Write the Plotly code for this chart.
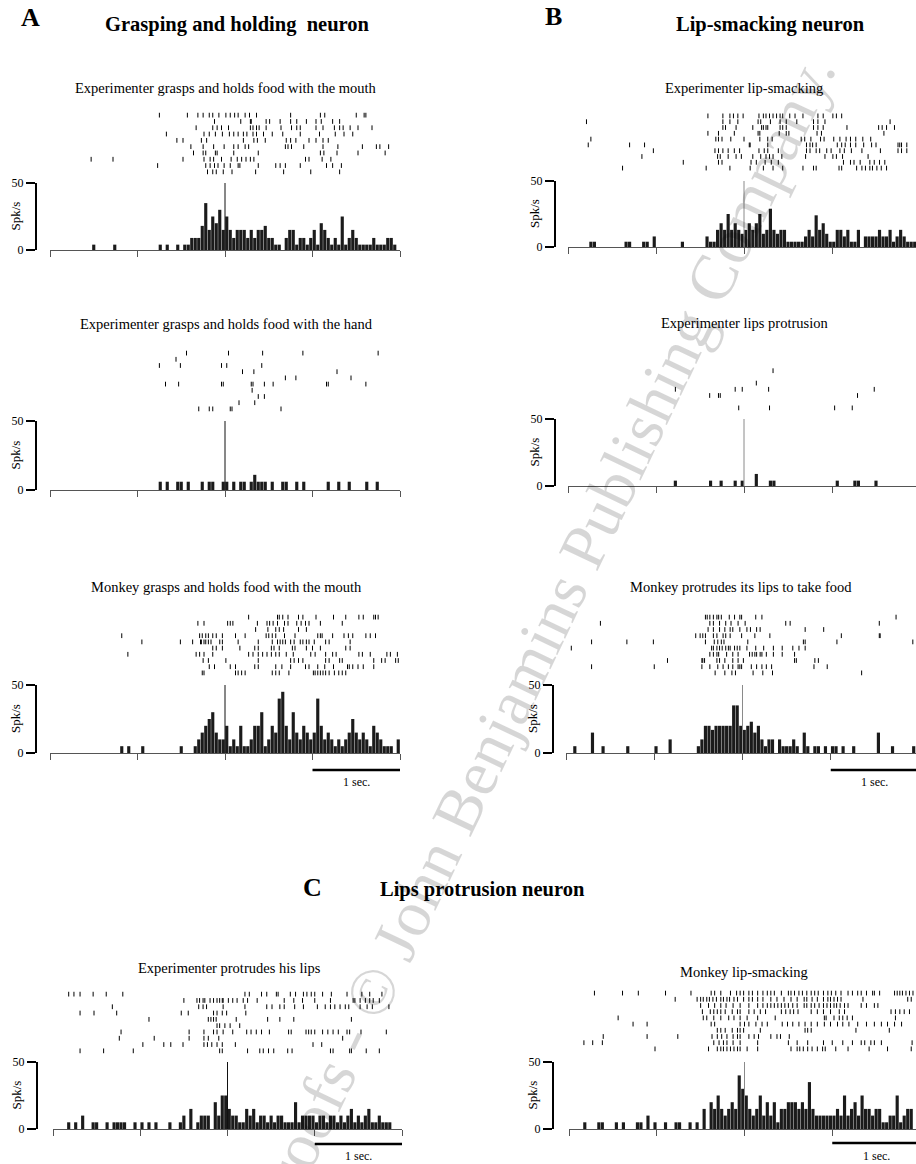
import plotly.graph_objects as go

W, H = 916, 1164
FONT = "Liberation Serif"

# ---------------- data ----------------
BIN = 0.04            # histogram bin width (s)
T_MIN, T_MAX = -2.0, 2.0
Y_MAX = 50            # spk/s
TICKS_T = [-2, -1, 0, 1, 2]

titles = {
    "A1": "Experimenter grasps and holds food with the mouth",
    "A2": "Experimenter grasps and holds food with the hand",
    "A3": "Monkey grasps and holds food with the mouth",
    "B1": "Experimenter lip-smacking",
    "B2": "Experimenter lips protrusion",
    "B3": "Monkey protrudes its lips to take food",
    "C1": "Experimenter protrudes his lips",
    "C2": "Monkey lip-smacking",
}

# firing rate per 40-ms bin, from -2 s to +2 s (spk/s)
rates_A1 = [0,0,0,0,0,0,0,0,0,0, 0,0,4,0,0,0,0,0,4,0, 0,0,0,0,0,0,0,0,0,0,
            0,4,0,4,0,0,4,0,4,4, 9,9,9,18,35,15,25,20,30,15, 25,15,9,15,15,15,9,15,9,15,
            15,18,9,9,4,4,0,9,15,15, 4,9,9,4,9,15,4,20,15,9, 4,9,4,25,4,9,15,9,4,4,
            4,4,9,4,4,4,9,9,4,0]
rates_A2 = [0,0,0,0,0,0,0,0,0,0, 0,0,0,0,0,0,0,0,0,0, 0,0,0,0,0,0,0,0,0,0,
            0,6,0,6,0,0,6,6,0,6, 0,0,0,6,0,6,6,0,0,6, 6,0,6,0,6,6,0,6,11,6,
            6,6,0,6,0,0,6,6,0,0, 6,0,6,0,0,0,0,0,0,6, 0,0,6,0,0,6,0,0,0,0,
            6,0,0,6,0,0,0,0,0,0]
rates_A3 = [0,0,0,0,0,0,0,0,0,0, 0,0,0,0,0,0,0,0,0,0, 5,0,5,0,0,0,5,0,0,0,
            0,0,0,0,0,0,0,5,0,0, 0,5,10,15,20,25,30,15,10,10, 20,5,10,5,20,5,5,10,20,20,
            30,5,10,20,15,40,45,20,10,30, 15,10,20,15,10,15,40,20,10,15, 10,5,10,5,10,15,25,15,10,15,
            10,5,20,15,10,5,5,5,0,10]
rates_B1 = [0,0,0,0,0,0,4,4,0,0, 0,0,0,0,0,0,4,4,0,0, 0,4,4,0,8,0,0,0,0,0,
            0,0,4,0,0,0,0,0,0,8, 4,4,13,18,13,25,13,18,13,10, 13,18,13,18,25,10,13,29,13,10,
            13,13,4,4,4,4,4,8,13,8, 24,13,18,10,4,4,13,13,8,13, 4,4,13,0,8,8,8,8,13,8,
            8,13,4,8,13,8,4,4,4,0]
rates_B2 = [0,0,0,0,0,0,0,0,0,0, 0,0,0,0,0,0,0,0,0,0, 0,0,0,0,0,0,0,0,0,0,
            4,0,0,0,0,0,0,0,0,0, 4,0,0,4,0,0,0,4,0,4, 0,0,0,9,0,0,0,4,4,0,
            0,0,0,0,0,0,0,0,0,0, 0,0,0,0,0,0,4,0,0,0, 0,4,4,0,0,0,0,4,0,0,
            0,0,0,0,0,0,0,0,0,0]
rates_B3 = [0,0,5,0,0,0,0,15,0,0, 5,0,0,0,0,0,0,5,0,0, 0,0,0,0,0,5,0,0,0,10,
            0,0,0,0,0,0,0,5,10,20, 20,17,20,20,20,20,20,35,35,20, 17,20,23,15,20,10,5,10,10,0,
            10,5,5,5,10,5,0,15,5,0, 5,5,0,5,0,5,5,0,5,0, 0,5,0,0,0,0,0,0,15,0,
            0,0,5,0,0,0,0,0,5,0]
rates_C1 = [0,0,0,0,5,0,5,0,10,0, 0,5,5,0,0,5,0,5,5,5, 5,0,0,5,0,5,0,5,0,5,
            0,0,0,5,0,0,5,10,0,15, 0,5,10,10,10,0,20,10,25,25, 15,10,10,5,5,15,10,15,5,10,
            10,5,10,5,10,10,5,5,5,20, 5,10,10,10,10,5,10,10,5,10, 10,5,10,5,10,15,5,10,5,10,
            15,5,5,10,5,5,5,0,0,0]
rates_C2 = [0,0,0,0,5,0,0,0,5,5, 0,0,0,5,0,5,0,0,0,5, 5,0,10,0,5,0,0,5,0,0,
            5,5,0,0,5,0,5,0,15,0, 20,15,25,15,10,15,20,15,40,30, 25,15,10,15,25,10,20,10,20,5,
            15,15,20,20,20,15,20,15,35,15, 10,10,10,10,10,10,15,10,25,10, 15,20,10,25,15,15,10,15,15,5,
            5,10,10,25,5,10,15,15,0,0]

# spike times (s) per trial, top trial first
raster_A1 = [
    [-0.75,-0.43,-0.31,-0.25,-0.18,-0.14,-0.07,0.01,0.06,0.11,0.15,0.23,0.28,0.36,0.75,1.09,1.14,1.50,1.59,1.61],
    [-0.12,0.18,0.29,0.30,0.47,0.51,0.63,0.75,0.82,0.93,1.04,1.10,1.23,1.31],
    [-0.33,-0.14,-0.09,-0.04,0.04,0.29,0.32,0.36,0.39,0.47,0.64,0.76,0.82,0.86,1.04,1.12,1.25,1.31,1.35,1.43,1.52,1.68],
    [-0.67,-0.24,-0.18,-0.11,-0.03,0.05,0.10,0.15,0.21,0.25,0.32,0.36,0.44,0.54,0.66,0.86,1.08,1.26,1.36,1.46],
    [-0.55,-0.48,-0.27,-0.21,0.21,0.33,0.37,0.46,0.70,0.75,0.81,0.96,1.04,1.12,1.18],
    [-0.39,-0.25,-0.13,-0.01,0.10,0.15,0.23,0.27,0.69,0.72,0.76,0.90,1.12,1.29,1.57,1.73,1.77,1.87],
    [-0.36,-0.25,-0.22,-0.11,-0.09,0.10,0.38,1.09,1.13,1.28,1.52,1.83],
    [-1.53,-1.28,-0.48,-0.24,-0.17,-0.13,-0.04,0.07,0.14,0.19,0.24,0.29,0.33,0.92,0.96,1.11,1.21],
    [-0.77,-0.22,-0.17,-0.12,-0.08,-0.01,0.06,0.15,0.17,0.38,0.58,0.63,0.69,0.86,1.16,1.23,1.33],
    [-0.20,-0.14,-0.10,-0.02,0.08,0.35,0.67,0.98,1.31],
]
raster_A2 = [
    [-0.44,0.04,0.43,0.89,1.75],
    [-0.56],
    [-0.75,-0.51,-0.04,0.02,0.42],
    [0.20,0.33,1.28],
    [0.69,0.81,1.44],
    [-0.68,-0.53,-0.04,-0.02,0.30,0.32,0.45,0.55,1.16,1.18,1.61],
    [0.31],
    [0.38,0.45],
    [0.16,0.34],
    [-0.30,-0.18,-0.14,0.06,0.08,0.64],
]
raster_A3 = [
    [0.27,0.60,0.62,0.66,0.72,0.84,0.89,1.04,1.24,1.38,1.53,1.58,1.70,1.72,1.75],
    [-0.31,-0.24,0.03,0.06,0.09,0.37,0.48,0.51,0.55,0.60,0.68,0.72,0.82,0.87,0.92,0.96,1.09,1.34],
    [0.35,0.49,0.58,0.62,0.67,0.84,0.93],
    [-1.18,-0.29,-0.26,-0.22,-0.19,-0.14,-0.10,-0.03,0.12,0.23,0.47,0.50,0.54,0.58,0.68,0.80,1.06,1.09,1.11,1.23,1.36,1.41,1.46,1.61,1.66,1.72],
    [-0.95,-0.51,-0.37,-0.28,-0.27,-0.24,-0.22,-0.19,-0.16,-0.06,-0.03,0.15,0.38,0.54,0.60,0.63,0.66,0.69,0.75,0.79,0.86,0.89,0.93,0.96,1.02,1.15,1.19,1.43],
    [-0.14,-0.10,-0.03,0.17,0.34,0.38,0.53,0.56,0.62,0.77,0.80,0.93,1.00,1.09,1.38,1.43],
    [-1.11,-0.33,-0.29,-0.24,-0.14,0.27,0.32,0.38,0.43,0.48,0.53,0.58,0.62,0.70,0.78,0.98,1.03,1.15,1.23,1.27,1.53,1.57,1.66,1.85,1.89,1.97],
    [-0.25,-0.19,0.01,0.38,0.75,0.79,0.84,0.89,1.15,1.19,1.31,1.34,1.70,1.79,1.83,1.95,1.98],
    [-0.18,-0.12,0.06,0.12,0.34,0.38,0.58,0.65,0.75,0.92,0.96,1.06,1.14,1.24,1.40,1.42,1.46,1.52,1.58,1.70],
    [-0.26,-0.24,0.12,0.15,0.19,0.23,0.54,0.58,0.62,0.73,1.01,1.03,1.06,1.09,1.12,1.15,1.19,1.25,1.30,1.34,1.38],
]
raster_B1 = [
    [-0.41,-0.24,-0.16,-0.12,-0.07,-0.01,0.17,0.22,0.25,0.29,0.33,0.37,0.41,0.44,0.52,0.58,0.67,0.84,0.90,1.01,1.05,1.11],
    [-1.79,-0.24,-0.16,-0.07,0.16,0.19,0.30,0.41,0.48,0.60,0.79,0.84,0.92,1.66],
    [-0.24,-0.21,-0.09,0.10,0.20,0.22,0.25,0.27,0.41,0.44,0.48,0.79,0.84,0.90,1.17,1.53,1.57,1.62,1.71],
    [-0.41,-0.29,-0.11,0.16,0.18,0.40,0.48,0.51,0.83,0.88,1.59],
    [-1.74,-0.32,-0.29,-0.25,-0.15,0.00,0.18,0.27,0.32,0.65,0.69,0.76,0.87,0.91,1.02,1.09,1.16,1.21,1.27,1.35,1.44],
    [-1.77,-1.30,-1.13,0.06,0.07,0.27,0.71,0.75,0.78,0.82,1.06,1.11,1.15,1.21,1.27,1.36,1.45,1.50,1.75,1.77,1.79,1.85],
    [-1.03,-0.33,-0.29,-0.24,-0.18,-0.11,-0.05,0.17,0.23,0.27,0.39,0.71,0.75,0.82,0.86,0.94,0.99,1.09,1.14,1.22,1.34,1.55,1.75,1.79,1.85],
    [-1.16,-0.30,-0.27,-0.18,-0.09,-0.03,0.10,0.19,0.25,0.29,0.33,0.43,0.70,0.92,1.01,1.05,1.12,1.41],
    [-0.69,-0.29,-0.25,0.08,0.14,0.24,0.31,0.39,1.13,1.21,1.25,1.32,1.43,1.48,1.54,1.60],
    [-1.38,-0.43,-0.16,0.07,0.22,0.33,0.44,0.67,0.79,0.82,1.08,1.11,1.28,1.34,1.38,1.43,1.46,1.51,1.56,1.62],
]
raster_B2 = [
    [], [], [],
    [0.33],
    [],
    [0.14],
    [-0.78,-0.10,-0.02,0.28,1.48],
    [-0.39,-0.29,-0.27,1.29],
    [],
    [-0.06,0.29,1.03,1.23],
]
raster_B3 = [
    [-0.42,-0.40,-0.37,-0.33,-0.29,-0.27,-0.24,-0.15,-0.09,-0.03,-0.01,0.15,0.22,1.74],
    [-1.61,-0.37,-0.33,-0.26,-0.19,-0.13,-0.05,0.03,0.49,0.54,1.55],
    [-0.39,-0.33,-0.26,-0.20,-0.14,-0.11,-0.03,0.05,0.09,0.16,0.20,0.71,0.92],
    [-0.53,-0.48,-0.45,-0.42,-0.33,-0.29,-0.22,-0.19,-0.14,-0.01,0.14,0.31,1.12,1.55,1.56],
    [-1.71,-1.31,-1.01,-0.42,-0.32,-0.28,-0.24,-0.21,0.06,0.69,0.71,1.07,1.93],
    [-1.94,-0.35,-0.33,-0.29,-0.26,-0.23,-0.19,-0.16,-0.14,-0.09,-0.06,-0.03,0.05,0.15,0.24,0.35,0.45,0.57,0.64,0.71],
    [-0.37,-0.33,-0.29,-0.27,-0.18,-0.11,-0.05,0.08,0.11,0.14,0.16,0.20,0.22,0.27,0.35,0.45,0.59],
    [-0.85,-0.46,-0.45,-0.43,-0.29,-0.26,-0.20,-0.11,-0.05,0.01,0.59,0.61,0.82,0.86],
    [-1.71,-1.00,-0.46,-0.37,-0.28,-0.22,-0.16,-0.11,-0.05,-0.03,-0.01,0.10,0.16,0.22,0.27,0.33,0.81,0.96],
    [-0.31,-0.20,-0.12,-0.08,0.12,0.23,0.34,1.35],
]
raster_C1 = [
    [-1.82,-1.76,-1.69,-1.54,-1.39,-1.20,0.20,0.25,0.39,0.45,0.56,0.58,0.72,0.78,0.87,0.91,0.96,1.00,1.09,1.19,1.37,1.54,1.63,1.77],
    [-0.50,-0.35,-0.32,-0.28,-0.26,-0.20,-0.16,-0.12,-0.09,-0.06,-0.05,0.01,0.06,0.11,0.18,0.23,0.34,0.65,0.76,0.86,1.00,1.18,1.44,1.46,1.52,1.58,1.63,1.67,1.74],
    [-1.32,-0.33,-0.28,-0.24,-0.05,0.20,0.45,0.51,0.60,0.65,0.77,0.87,1.03,1.12,1.18,1.23,1.29,1.35,1.39,1.52,1.60,1.66,1.85],
    [-1.69,-1.53,-1.27,-0.53,-0.45,-0.16,-0.12,-0.06,-0.01,0.21],
    [-0.90,-0.22,-0.19,-0.16,-0.13,0.10,0.46,0.60,0.76,1.42],
    [-0.12,-0.09,-0.03,0.03,0.14],
    [-1.22,-0.44,-0.27,-0.16,-0.12,-0.05,0.06,0.22,0.27,0.33,0.39,0.48,0.70,0.73,0.90,0.93,0.96,1.00,1.09,1.15,1.21,1.27,1.37,1.40,1.53,1.82],
    [-1.24,-0.84,-0.44,-0.27,-0.22,-0.10,1.32],
    [-0.97,-0.73,-0.65,-0.51,-0.27,-0.23,-0.18,-0.12,-0.06,0.09,0.98,1.08],
    [-1.69,-1.42,-1.08,-0.09,-0.06,0.23,0.37,0.41,0.47,0.53,0.69,0.74,1.18,1.21,1.40,1.42,1.59,1.74],
]
raster_C2 = [
    [-1.71,-1.39,-1.21,-0.90,-0.61,-0.38,-0.34,-0.27,-0.16,-0.09,-0.05,-0.01,0.05,0.09,0.15,0.21,0.26,0.30,0.34,0.42,0.50,0.53,0.57,0.62,0.66,0.71,0.76,0.80,0.84,0.90,0.95,0.99,1.04,1.10,1.18,1.23,1.29,1.33,1.39,1.46,1.48,1.54,1.71,1.74,1.77,1.80,1.84,1.88,1.92],
    [-0.79,-0.54,-0.50,-0.47,-0.43,-0.40,-0.36,-0.32,-0.27,-0.24,-0.20,-0.17,-0.12,-0.08,-0.01,0.05,0.09,0.15,0.21,0.30,0.37,0.45,0.53,0.60,0.68,0.71,0.77,0.83,0.90,0.95,0.98,1.02,1.06,1.10,1.35,1.86,1.90],
    [-0.50,-0.41,-0.34,-0.27,-0.21,-0.13,-0.05,0.05,0.15,0.21,0.26,0.30,0.34,0.38,0.42,0.46,0.50,0.55,0.60,0.68,0.71,0.76,0.80,0.85,0.90,0.94,0.98,1.02,1.05,1.09,1.14,1.18,1.33,1.39,1.48,1.52],
    [-0.48,-0.39,-0.35,-0.31,-0.27,-0.22,-0.14,-0.08,-0.05,0.05,0.11,0.18,0.24,0.42,0.47,0.52,0.56,0.61,0.76,0.83,0.90,0.98,1.08,1.14,1.67,1.72,1.77,1.82,1.88],
    [-1.44,-0.47,-0.43,-0.35,-0.27,-0.18,-0.12,-0.05,0.03,0.15,0.35,0.91,0.93,1.02,1.08,1.12,1.17,1.23,1.72],
    [-1.27,-1.11,-0.38,-0.34,-0.05,0.00,0.05,0.13,0.20,0.26,0.43,0.49,0.55,0.62,0.69,0.76,0.83,0.91,0.98,1.06,1.12,1.19,1.29,1.39,1.48,1.56,1.63,1.71,1.79],
    [-0.31,-0.27,-0.22,-0.14,-0.08,-0.05,-0.01,0.18,0.69,0.72,0.76,1.27,1.65],
    [-1.61,-1.11,-0.76,-0.37,-0.31,-0.26,-0.20,-0.13,-0.08,-0.05,0.05,0.11,0.16,0.30,0.37,0.41,0.51],
    [-1.83,-1.73,-1.62,-0.35,-0.29,-0.24,-0.20,-0.13,-0.05,0.15,0.50,0.60,0.72,0.90,1.00,1.12,1.23,1.33,1.37,1.44,1.48,1.56,1.91],
    [-1.02,-0.41,-0.31,-0.27,-0.24,-0.20,-0.16,-0.12,-0.08,-0.05,0.03,0.15,0.53,0.60,0.63,0.67,0.72,0.77,0.83,0.89,0.92,1.04,1.18,1.42,1.63,1.90],
]

# ---------------- layout geometry (pixels) ----------------
panels = [
    dict(key="A1", rates=rates_A1, raster=raster_A1, x0=50, x1=400, ht=183, hb=250, rt=112, rb=175, tx=226, ty=88, yax=36, zc="#111111", bar=None),
    dict(key="A2", rates=rates_A2, raster=raster_A2, x0=50, x1=400, ht=421, hb=490, rt=350, rb=412, tx=226, ty=324, yax=36, zc="#111111", bar=None),
    dict(key="A3", rates=rates_A3, raster=raster_A3, x0=50, x1=400, ht=685, hb=753, rt=614, rb=676, tx=226, ty=587, yax=36, zc="#111111", bar=(770, 782)),
    dict(key="B1", rates=rates_B1, raster=raster_B1, x0=568, x1=920, ht=181, hb=247, rt=113, rb=171, tx=744, ty=88, yax=555, zc="#8a8a8a", bar=None),
    dict(key="B2", rates=rates_B2, raster=raster_B2, x0=568, x1=920, ht=419, hb=486, rt=349, rb=411, tx=744, ty=323, yax=555, zc="#8a8a8a", bar=None),
    dict(key="B3", rates=rates_B3, raster=raster_B3, x0=566, x1=919, ht=685, hb=753, rt=614, rb=676, tx=741, ty=587, yax=553, zc="#8a8a8a", bar=(770, 782)),
    dict(key="C1", rates=rates_C1, raster=raster_C1, x0=53, x1=402, ht=1062, hb=1129, rt=991, rb=1054, tx=229, ty=968, yax=37, zc="#111111", bar=(1144, 1156)),
    dict(key="C2", rates=rates_C2, raster=raster_C2, x0=569, x1=920, ht=1062, hb=1129, rt=990, rb=1052, tx=744, ty=972, yax=553, zc="#8a8a8a", bar=(1143, 1156)),
]

def fx(p):
    return p / W

def fy(p):
    return 1 - p / H

bin_centers = [T_MIN + BIN * (i + 0.5) for i in range(len(rates_A1))]

fig = go.Figure()
layout = dict(
    width=W, height=H, margin=dict(l=0, r=0, t=0, b=0, autoexpand=False),
    paper_bgcolor="white", plot_bgcolor="white", showlegend=False,
    font=dict(family=FONT, color="black"),
)
shapes, annotations = [], []

for k, p in enumerate(panels):
    hi = 2 * k + 1
    ri = 2 * k + 2
    hx, hy = f"x{hi}", f"y{hi}"
    rx, ry = f"x{ri}", f"y{ri}"
    px_per_s = (p["x1"] - p["x0"]) / (T_MAX - T_MIN)
    x1c = min(p["x1"], W)
    xr = [T_MIN, T_MIN + (x1c - p["x0"]) / px_per_s]
    xdom = [fx(p["x0"]), fx(x1c)]

    fig.add_trace(go.Bar(
        x=bin_centers, y=p["rates"], width=BIN * 0.9,
        marker=dict(color="#1b1b1b", line=dict(width=0)),
        xaxis=hx, yaxis=hy, hoverinfo="skip"))
    xs, ys = [], []
    for row, spikes in enumerate(p["raster"]):
        xs += spikes
        ys += [row] * len(spikes)
    fig.add_trace(go.Scatter(
        x=xs, y=ys, mode="markers",
        marker=dict(symbol="line-ns", size=3.4, line=dict(width=1, color="black"), color="black"),
        xaxis=rx, yaxis=ry, hoverinfo="skip"))

    layout[f"xaxis{hi}"] = dict(
        domain=xdom, range=xr, anchor=hy, showline=True, linecolor="#555555", linewidth=1,
        ticks="outside", ticklen=6, tickwidth=1, tickcolor="#555555", tickvals=TICKS_T,
        showticklabels=False, showgrid=False, zeroline=False, fixedrange=True)
    layout[f"yaxis{hi}"] = dict(
        domain=[fy(p["hb"]), fy(p["ht"])], range=[0, Y_MAX], anchor="free", position=fx(p["yax"]),
        showline=True, linecolor="black", linewidth=2, ticks="outside", ticklen=9, tickwidth=2,
        tickcolor="black", tickvals=[0, Y_MAX], ticktext=["0", str(Y_MAX)],
        tickfont=dict(family=FONT, size=12, color="black"),
        showgrid=False, zeroline=False, fixedrange=True)
    layout[f"xaxis{ri}"] = dict(domain=xdom, range=xr, anchor=ry, visible=False, fixedrange=True)
    n_rows = len(p["raster"])
    layout[f"yaxis{ri}"] = dict(domain=[fy(p["rb"]), fy(p["rt"])], range=[n_rows - 0.5, -0.5],
                                anchor=rx, visible=False, fixedrange=True)

    shapes.append(dict(type="line", xref=hx, yref=hy, x0=0, x1=0, y0=0, y1=Y_MAX,
                       line=dict(color=p["zc"], width=1)))
    annotations.append(dict(text=titles[p["key"]], x=fx(p["tx"]), y=fy(p["ty"]), xref="paper", yref="paper",
                            showarrow=False, xanchor="center", yanchor="middle",
                            font=dict(family=FONT, size=14.5, color="black")))
    annotations.append(dict(text="Spk/s", x=fx(p["yax"] - 21), y=fy((p["ht"] + p["hb"]) / 2),
                            xref="paper", yref="paper", showarrow=False, textangle=-90,
                            xanchor="center", yanchor="middle",
                            font=dict(family=FONT, size=13, color="black")))
    if p["bar"]:
        by, ty = p["bar"]
        shapes.append(dict(type="line", xref=hx, yref="paper", x0=1, x1=2, y0=fy(by), y1=fy(by),
                           line=dict(color="black", width=2.5)))
        annotations.append(dict(text="1 sec.", x=1.5, xref=hx, y=fy(ty), yref="paper", showarrow=False,
                                xanchor="center", yanchor="middle",
                                font=dict(family=FONT, size=12, color="black")))

headers = [
    ("A", 30, 18, 26), ("B", 553, 17, 26), ("C", 312, 887, 26),
]
for txt, x, y, s in headers:
    annotations.append(dict(text=f"<b>{txt}</b>", x=fx(x), y=fy(y), xref="paper", yref="paper",
                            showarrow=False, xanchor="center", yanchor="middle",
                            font=dict(family=FONT, size=s, color="black")))
neurons = [
    ("Grasping and holding  neuron", 237, 24, "center"),
    ("Lip-smacking neuron", 770, 24, "center"),
    ("Lips protrusion neuron", 378, 890, "left"),
]
for txt, x, y, anc in neurons:
    annotations.append(dict(text=f"<b>{txt.replace('  ', '&nbsp; ')}</b>", x=fx(x), y=fy(y), xref="paper", yref="paper",
                            showarrow=False, xanchor=anc, yanchor="middle",
                            font=dict(family=FONT, size=20.5, color="black")))

# watermark
annotations.append(dict(text="proofs - © John Benjamins Publishing Company.", x=fx(542), y=fy(636),
                        xref="paper", yref="paper", showarrow=False, textangle=-64.5,
                        xanchor="center", yanchor="middle",
                        font=dict(family=FONT, size=65, color="rgba(0,0,0,0.16)")))

layout["shapes"] = shapes
layout["annotations"] = annotations
fig.update_layout(**layout)
fig.write_html("out.html", config={"displayModeBar": False},
               post_script="document.body.style.margin='0';document.body.style.overflow='hidden';")
